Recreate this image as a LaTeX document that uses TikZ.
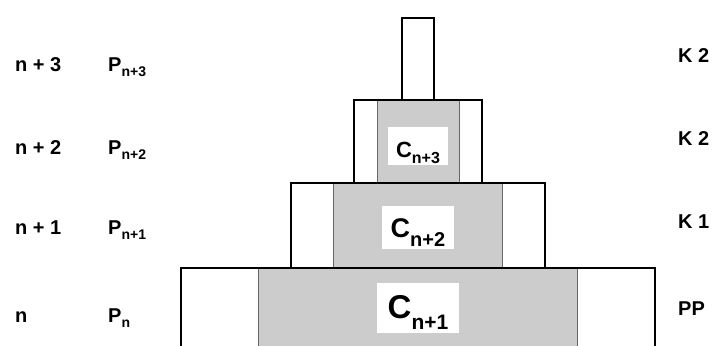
\documentclass[tikz,border=0pt]{standalone}
\usepackage{fontspec}
\setmainfont{Liberation Sans}
\newcommand{\fs}[1]{\fontsize{#1}{#1}\selectfont}
\newcommand{\lowsub}[3]{\raisebox{-#2pt}{\fs{#1}#3}}
\begin{document}
\begin{tikzpicture}[x=1pt,y=-1pt,
  outer/.style={line width=2.8pt, line join=miter},
  shade/.style={fill=black!20, draw=black!60, line width=0.9pt},
  labbox/.style={fill=white, draw=none},
  ctxt/.style={anchor=base, inner sep=0pt, font=\bfseries},
  rowtxt/.style={anchor=base west, inner sep=0pt, font=\bfseries\fs{20}}]
\useasboundingbox (0,0) rectangle (714,345);
% shaded cores
\draw[shade] (258,268) rectangle (577,350);
\draw[shade] (333,183) rectangle (502,268);
\draw[shade] (377,100) rectangle (459,183);
% white label boxes
\fill[labbox] (377,283) rectangle (459,333);
\fill[labbox] (382,206) rectangle (454,249);
\fill[labbox] (388,127) rectangle (448,165);
% core labels
\node[ctxt] (c1) at (418,318) {\fs{33}C\lowsub{21}{11}{n+1}};
\node[ctxt] (c2) at (418,237) {\fs{27}C\lowsub{20}{9}{n+2}};
\node[ctxt] (c3) at (418,157) {\fs{22}C\lowsub{16}{6}{n+3}};
% outer outlines
\draw[outer] (181,350) -- (181,268) -- (655,268) -- (655,350);
\draw[outer] (291,268) -- (291,183) -- (545,183) -- (545,268);
\draw[outer] (354,183) -- (354,100) -- (482,100) -- (482,183);
\draw[outer] (402,100) -- (402,18) -- (434,18) -- (434,100);
% left labels
\node[rowtxt] (r3) at (15,71) {n + 3};
\node[rowtxt] (r2) at (15,154) {n + 2};
\node[rowtxt] (r1) at (15,234) {n + 1};
\node[rowtxt] (r0) at (15,322) {n};
\node[rowtxt] (p3) at (108,71) {P\lowsub{14}{5}{n+3}};
\node[rowtxt] (p2) at (108,154) {P\lowsub{14}{5}{n+2}};
\node[rowtxt] (p1) at (108,234) {P\lowsub{14}{5}{n+1}};
\node[rowtxt] (p0) at (108,322) {P\lowsub{14}{5}{n}};
% right labels
\node[rowtxt] (k3) at (678,63) {K 2};
\node[rowtxt] (k2) at (678,145) {K 2};
\node[rowtxt] (k1) at (678,228) {K 1};
\node[rowtxt] (k0) at (678,315) {PP};
\end{tikzpicture}
\end{document}
